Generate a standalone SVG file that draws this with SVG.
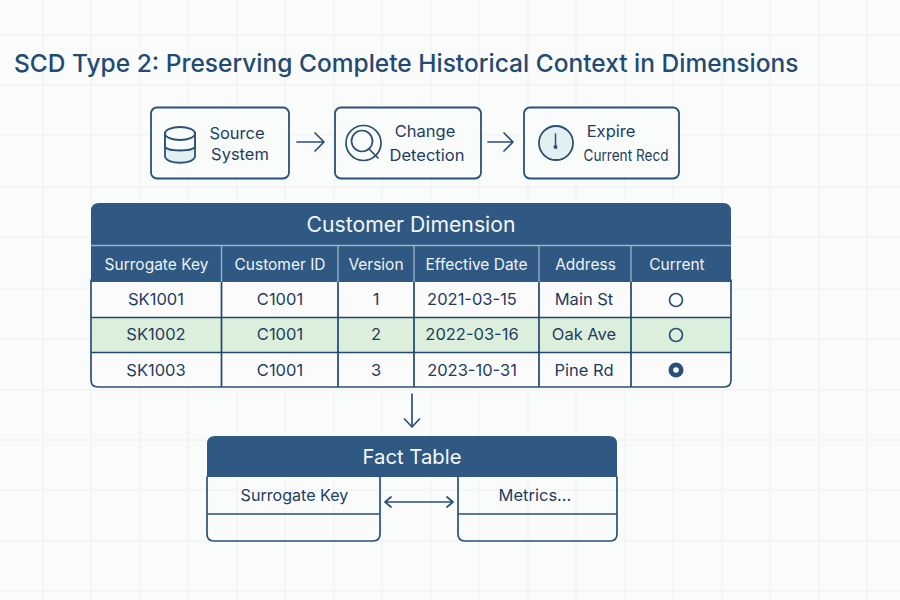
<svg xmlns="http://www.w3.org/2000/svg" width="900" height="600" viewBox="0 0 900 600">
<style>
text{font-family:"Inter","Noto Sans","Liberation Sans",sans-serif;text-anchor:middle;fill:#1f3d5f}
.ln{fill:none;stroke:#2b5078;stroke-width:1.700;stroke-linecap:round;stroke-linejoin:round}
.grid{stroke:#f1f3f5;stroke-width:1.500;fill:none}
.box{fill:#fafbfb;stroke:#2b5078;stroke-width:1.800}
.hd{fill:#2f5983}
.g{fill:#dcefdc}
.w{fill:#fafbfa}
.sep{stroke:#1f4770;stroke-width:1.700;fill:none}
.hs{stroke:#9db4cb;stroke-width:1.300;fill:none}
.icon{fill:#e2f0f1;stroke:#2b5078;stroke-width:1.800}
.t{font-size:16.500px}
.th{font-size:15.500px;fill:#eef3f7}
.td{font-size:16.500px}
</style>
<rect width="900" height="600" fill="#fafbfb"/>
<g id="grid">
<path class="grid" d="M43 0V600M91 0V600M140 0V600M188 0V600M237 0V600M285 0V600M334 0V600M382 0V600M431 0V600M479 0V600M528 0V600M576 0V600M625 0V600M673 0V600M722 0V600M770 0V600M819 0V600M867 0V600"/>
<path class="grid" d="M0 35H900M0 85H900M0 135H900M0 187H900M0 237H900M0 289H900M0 339H900M0 390H900M0 440H900M0 490H900M0 541H900M0 591H900"/>
</g>
<text id="title" x="14" y="72" style="text-anchor:start;font-size:24.500px;font-weight:500;fill:#234a72">SCD Type 2: Preserving Complete Historical Context in Dimensions</text>
<g id="source">
<rect class="box" x="151" y="107.500" width="138" height="71" rx="6"/>
<path class="icon" d="M165 133V156C165 165 195 165 195 156V133"/>
<path d="M165 133V146C165 152 195 152 195 146V133Z" fill="#fafbfb" stroke="#2b5078" stroke-width="1.800"/>
<ellipse cx="180" cy="133.500" rx="15" ry="6.500" fill="#fafbfb" stroke="#2b5078" stroke-width="1.800"/>
<text class="t" x="237" y="139">Source</text>
<text class="t" x="240" y="160">System</text>
</g>
<g id="change">
<rect class="box" x="335" y="107.500" width="146" height="71" rx="6"/>
<circle class="ln" cx="363.500" cy="143" r="17.500"/>
<circle class="ln" cx="362" cy="141" r="10.500"/>
<path class="ln" d="M369 149L378 158"/>
<text class="t" x="425" y="137">Change</text>
<text class="t" x="427" y="161">Detection</text>
</g>
<g id="expire">
<rect class="box" x="524" y="107.500" width="155" height="71" rx="6"/>
<circle class="icon" cx="556" cy="143" r="17"/>
<path class="ln" d="M555.500 134V146" style="stroke-width:1.500"/>
<circle cx="555.500" cy="147" r="2" fill="#2b5078"/>
<text class="t" x="611" y="137">Expire</text>
<text x="626" y="161" textLength="85" lengthAdjust="spacingAndGlyphs" style="font-size:16px">Current Recd</text>
</g>
<g id="connectors">
<path class="ln" d="M297 142H324M315 133L324 142L315 151"/>
<path class="ln" d="M488 142H512M504 133L513 142L504 151"/>
<path class="ln" d="M412 394V427M404.500 419L412 427L419.500 419"/>
<path class="ln" d="M385 502H453M391 497L385 502L391 507M447 497L453 502L447 507"/>
</g>
<g id="customer-dimension">
<path class="hd" d="M91 282V211Q91 203 99 203H723Q731 203 731 211V282Z"/>
<rect class="w" x="92" y="283" width="638" height="34"/>
<rect class="g" x="92" y="318" width="638" height="34"/>
<path class="w" d="M92 353H730V381Q730 387 724 387H98Q92 387 92 381Z"/>
<path class="hs" d="M91 245.500H731M221.500 245.500V282M338 245.500V282M414 245.500V282M539 245.500V282M631 245.500V282"/>
<path class="sep" d="M221.500 282V387M338 282V387M414 282V387M539 282V387M631 282V387M91 317.500H731M91 352.500H731"/>
<path class="ln" d="M91 280V380Q91 387 98 387H724Q731 387 731 380V280"/>
<text x="411" y="232" style="font-size:21.200px;fill:#f3f6f9">Customer Dimension</text>
<text class="th" x="156.500" y="270">Surrogate Key</text>
<text class="th" x="280" y="270">Customer ID</text>
<text class="th" x="376" y="270">Version</text>
<text class="th" x="476.500" y="270">Effective Date</text>
<text class="th" x="585.500" y="270">Address</text>
<text class="th" x="677" y="270">Current</text>
<text class="td" x="156" y="305">SK1001</text>
<text class="td" x="280" y="305">C1001</text>
<text class="td" x="376" y="305">1</text>
<text class="td" x="472" y="305">2021-03-15</text>
<text class="td" x="584" y="305">Main St</text>
<circle class="ln" cx="676" cy="300" r="6.500"/>
<text class="td" x="156" y="340">SK1002</text>
<text class="td" x="280" y="340">C1001</text>
<text class="td" x="376" y="340">2</text>
<text class="td" x="472" y="340">2022-03-16</text>
<text class="td" x="584" y="340">Oak Ave</text>
<circle class="ln" cx="676" cy="335" r="6.500"/>
<text class="td" x="156" y="376">SK1003</text>
<text class="td" x="280" y="376">C1001</text>
<text class="td" x="376" y="376">3</text>
<text class="td" x="472" y="376">2023-10-31</text>
<text class="td" x="584" y="376">Pine Rd</text>
<circle cx="676" cy="370" r="7.500" fill="#2b5078"/>
<circle cx="676" cy="370" r="2.800" fill="#fafbfb"/>
</g>
<g id="fact-table">
<path class="hd" d="M207 477V444Q207 436 215 436H609Q617 436 617 444V477Z"/>
<path class="ln" d="M207 477V534Q207 541 214 541H373Q380 541 380 534V477M207 514H380"/>
<path class="ln" d="M458 477V534Q458 541 465 541H610Q617 541 617 534V477M458 514H617"/>
<text x="412" y="464" style="font-size:20.300px;fill:#f8fafb">Fact Table</text>
<text x="294.500" y="501" style="font-size:16.100px">Surrogate Key</text>
<text class="t" x="535" y="501">Metrics...</text>
</g>
</svg>
